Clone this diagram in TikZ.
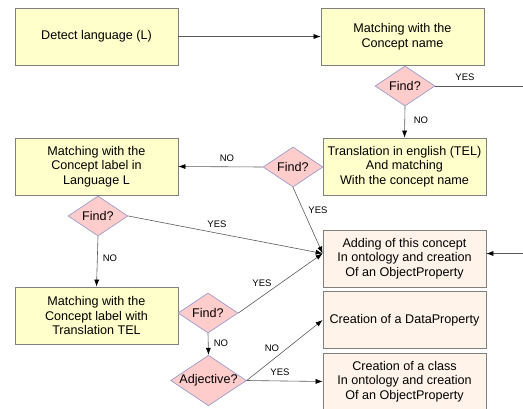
\documentclass[tikz,border=0pt]{standalone}
\usepackage{fontspec}
\setmainfont{Liberation Sans}
\usetikzlibrary{shapes.geometric,arrows.meta}
\definecolor{boxyellow}{HTML}{FFFFCC}
\definecolor{boxpeach}{HTML}{FFF3EA}
\definecolor{diafill}{HTML}{FFCCCC}
\definecolor{diaborder}{HTML}{9A9ACC}
\definecolor{boxborder}{HTML}{808080}
\begin{document}
\begin{tikzpicture}[x=1pt,y=-1pt,
  yellowbox/.style={draw=boxborder,fill=boxyellow,line width=0.7pt,minimum width=163pt,minimum height=57pt,align=center,inner sep=0pt,font=\fontsize{12.6}{14.5}\selectfont},
  peachbox/.style={yellowbox,fill=boxpeach},
  decision/.style={diamond,draw=diaborder,fill=diafill,line width=0.7pt,aspect=1.5,inner sep=0pt,minimum width=60pt,minimum height=40pt,font=\fontsize{12.6}{14.5}\selectfont},
  flow/.style={draw=black!65,line width=0.6pt,-{Latex[length=7pt,width=5pt,color=black]}},
  plain/.style={draw=black!65,line width=0.6pt},
  lbl/.style={font=\fontsize{9.5}{11}\selectfont,inner sep=0pt}]
\useasboundingbox (0,0) rectangle (523,408);
\node[yellowbox] (b1) at (96.5,36.5) {Detect language (L)};
\node[yellowbox] (b2) at (402.5,36.5) {Matching with the\\Concept name};
\node[yellowbox] (b3) at (404.5,166.5) {Translation in english (TEL)\\And matching\\With the concept name};
\node[yellowbox] (b4) at (96.5,166.5) {Matching with the\\Concept label in\\Language L};
\node[peachbox] (b5) at (404.5,258.5) {Adding of this concept\\In ontology and creation\\Of an ObjectProperty};
\node[yellowbox] (b6) at (96.5,315.5) {Matching with the\\Concept label with\\Translation TEL};
\node[peachbox] (b7) at (404.5,320) {Creation of a DataProperty};
\node[peachbox] (b8) at (404.5,381.5) {Creation of a class\\In ontology and creation\\Of an ObjectProperty};
\node[decision] (d1) at (405,86) {Find?};
\node[decision] (d2) at (293,167) {Find?};
\node[decision] (d3) at (98,216) {Find?};
\node[decision] (d4) at (208,313) {Find?};
\node[decision,minimum width=73pt,minimum height=41pt] (d5) at (208.5,380.5) {Adjective?};
\coordinate (conv) at ([yshift=5pt]b5.west);
\coordinate (rin) at (523,253.5);
\coordinate (rout) at (523,86);
\draw[flow] (b1.east) -- (b2.west);
\draw[plain] (d1.east) -- (rout);
\node[lbl] (l1) at (465,77) {YES};
\draw[flow] (d1.south) -- (b3.north);
\node[lbl] (l2) at (421,120) {NO};
\draw[flow] (d2.west) -- (b4.east);
\node[lbl] (l3) at (227,158) {NO};
\draw[flow] (d2.south) -- (conv);
\node[lbl] (l4) at (318,210) {YES};
\draw[flow] (d3.east) -- (conv);
\node[lbl] (l5) at (217,224) {YES};
\draw[flow] (rin) -- ([yshift=5pt]b5.east);
\draw[flow] (d3.south) -- (b6.north);
\node[lbl] (l6) at (110,258) {NO};
\draw[flow] (d4.east) -- (conv);
\node[lbl] (l7) at (262,283) {YES};
\draw[flow] (d4.south) -- (d5.north);
\node[lbl] (l8) at (221,343) {NO};
\draw[flow] (d5.east) -- (b7.west);
\node[lbl] (l9) at (272,348) {NO};
\draw[flow] (d5.east) -- (b8.west);
\node[lbl] (l10) at (280,372) {YES};
\end{tikzpicture}
\end{document}
